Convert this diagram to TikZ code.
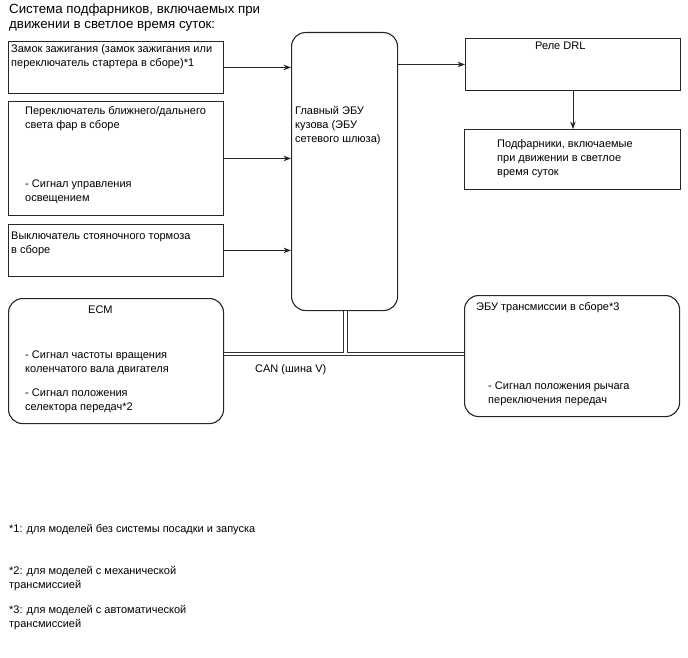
\documentclass[tikz,border=0pt]{standalone}
\usepackage{fontspec}
\setmainfont{Liberation Sans}
\usetikzlibrary{arrows.meta}
\begin{document}
\begin{tikzpicture}[x=1pt,y=-1pt,
  box/.style={draw=black!85, line width=0.9pt, anchor=north west, inner sep=0pt},
  rbox/.style={box, rounded corners=14pt, line width=1.1pt},
  txt/.style={anchor=north west, inner sep=0pt, align=left, font=\fontsize{11}{14}\selectfont},
  arr/.style={draw=black!85, line width=0.9pt, -{Stealth[length=7.5pt,width=5.5pt]}},
  bus/.style={draw=black!80, double=white, double distance=2.8pt, line width=0.9pt}
]
\useasboundingbox (0,0) rectangle (688,658);

% title
\node[anchor=north west, inner sep=0pt, align=left, font=\fontsize{13.3}{15}\selectfont] (title) at (9,4) {Система подфарников, включаемых при\\движении в светлое время суток:};

% left boxes
\node[box, minimum width=215pt, minimum height=52pt] (b1) at (8,41) {};
\node[txt] (t1) at (11,44) {Замок зажигания (замок зажигания или\\переключатель стартера в сборе)*1};

\node[box, minimum width=215pt, minimum height=114pt] (b2) at (8,101) {};
\node[txt] (t2a) at (25,106) {Переключатель ближнего/дальнего\\света фар в сборе};
\node[txt] (t2b) at (25,180) {- Сигнал управления\\освещением};

\node[box, minimum width=215pt, minimum height=52pt] (b3) at (8,224) {};
\node[txt] (t3) at (11,232) {Выключатель стояночного тормоза\\в сборе};

% main ECU
\node[rbox, minimum width=106pt, minimum height=278pt] (main) at (291,32) {};
\node[txt] (tm) at (295,106) {Главный ЭБУ\\кузова (ЭБУ\\сетевого шлюза)};

% relay
\node[box, minimum width=215pt, minimum height=52pt] (relay) at (465,38) {};
\node[txt] (tr) at (535,42) {Реле DRL};

% lamps
\node[box, minimum width=216pt, minimum height=60pt] (lamps) at (464,129) {};
\node[txt] (tl) at (497,139) {Подфарники, включаемые\\при движении в светлое\\время суток};

% ECM
\node[rbox, minimum width=215pt, minimum height=125pt] (ecm) at (8,298) {};
\node[txt] (te) at (88,306) {ECM};
\node[txt] (te2) at (25,351) {- Сигнал частоты вращения\\коленчатого вала двигателя};
\node[txt] (te3) at (25,389) {- Сигнал положения\\селектора передач*2};

% transmission ECU
\node[rbox, minimum width=215pt, minimum height=121pt] (tcu) at (464,295) {};
\node[txt] (tt) at (476,302) {ЭБУ трансмиссии в сборе*3};
\node[txt] (tt2) at (488,382) {- Сигнал положения рычага\\переключения передач};

% arrows
\draw[arr] (b1.east) -- (b1.east -| main.west);
\draw[arr] (b2.east) -- (b2.east -| main.west);
\draw[arr] (b3.east) -- (b3.east -| main.west);
\draw[arr] (relay.west -| main.east) -- (relay.west);
\draw[arr] (relay.south) -- (lamps.north -| relay.south);

% CAN bus
\coordinate (busj) at (345.5,354);
\coordinate (bustop) at (345.5,352.6);
\draw[bus] (ecm.east |- busj) -- (tcu.west |- busj);
\draw[bus] (main.south -| busj) -- (bustop);
\node[txt] (can) at (255,364) {CAN (шина V)};

% footnotes
\node[txt] (f1) at (9,524) {*1: для моделей без системы посадки и запуска};
\node[txt] (f2) at (9,566) {*2: для моделей с механической\\трансмиссией};
\node[txt] (f3) at (9,605) {*3: для моделей с автоматической\\трансмиссией};
\end{tikzpicture}
\end{document}
